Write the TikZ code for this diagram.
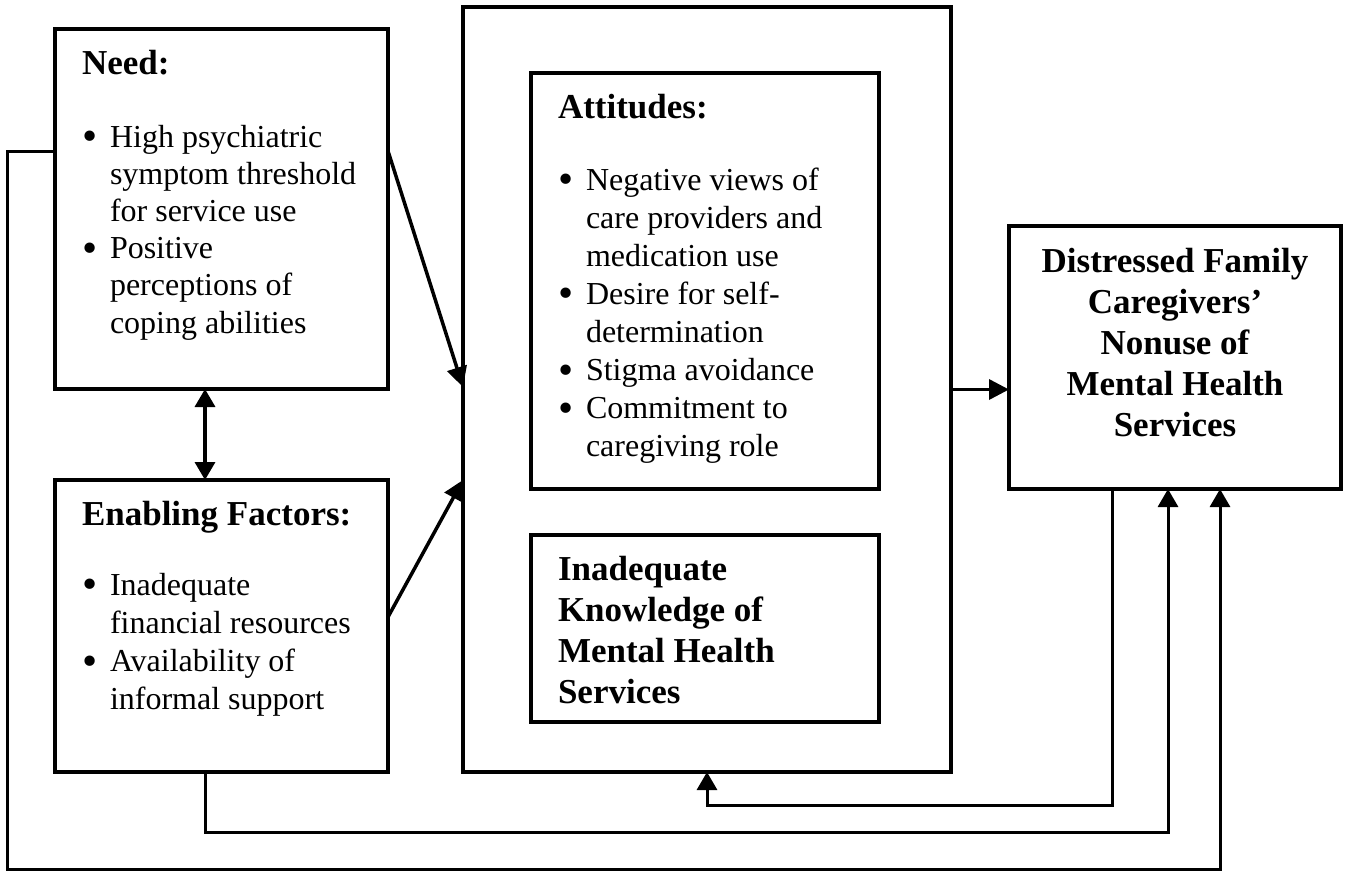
\documentclass[tikz,border=0pt]{standalone}
\usepackage{fontspec}
\usepackage{graphicx}
\setmainfont{Liberation Serif}
\usetikzlibrary{arrows.meta}
\newcommand{\bl}{\makebox[28pt][l]{\raisebox{-3.5pt}{\scalebox{1.35}{\textbullet}}}}
\newcommand{\blist}[1]{\begin{tabular}[t]{@{}l@{}l@{}}#1\end{tabular}}
\tikzset{
  box/.style={draw, rectangle, line width=4pt, inner sep=0pt, outer sep=0pt},
  conn/.style={line width=3.5pt, -{Triangle[length=20pt,width=20pt]}},
  dconn/.style={line width=3.5pt, {Triangle[length=18pt,width=20pt]}-{Triangle[length=18pt,width=20pt]}},
  fb/.style={line width=3pt, -{Triangle[length=18pt,width=20pt]}},
  head/.style={inner sep=0pt, outer sep=0pt, anchor=base west, font=\bfseries\fontsize{35}{41}\selectfont},
  lst/.style={inner sep=0pt, outer sep=0pt, anchor=base west, font=\fontsize{32}{37.2}\selectfont},
}
\begin{document}
\begin{tikzpicture}[x=1pt, y=-1pt]
\useasboundingbox (0,0) rectangle (1347,871);
\fill[white] (0,0) rectangle (1347,871);

% boxes
\node[box, minimum width=333pt, minimum height=360pt] (need) at (221.5,209) {};
\node[box, minimum width=333pt, minimum height=292pt] (enab) at (221.5,626) {};
\node[box, minimum width=488pt, minimum height=765pt] (outer) at (707,389.5) {};
\node[box, minimum width=348pt, minimum height=416pt] (att) at (705,281) {};
\node[box, minimum width=348pt, minimum height=187pt] (know) at (705,628.5) {};
\node[box, minimum width=332pt, minimum height=263pt] (dist) at (1175,357.5) {};

% texts
\node[head] (needhead) at (82,74) {Need:};
\node[lst] (needlist) at (82,147) {\blist{%
 \bl & High psychiatric\\
     & symptom threshold\\
     & for service use\\
 \bl & Positive\\
     & perceptions of\\
     & coping abilities}};

\node[head] (enabhead) at (82,525) {Enabling Factors:};
\node[lst, font=\fontsize{32}{38.3}\selectfont] (enablist) at (82,595) {\blist{%
 \bl & Inadequate\\
     & financial resources\\
 \bl & Availability of\\
     & informal support}};

\node[head] (atthead) at (558,118) {Attitudes:};
\node[lst, font=\fontsize{32}{38.1}\selectfont] (attlist) at (558,190) {\blist{%
 \bl & Negative views of\\
     & care providers and\\
     & medication use\\
 \bl & Desire for self-\\
     & determination\\
 \bl & Stigma avoidance\\
 \bl & Commitment to\\
     & caregiving role}};

\node[head] (knowtxt) at (558,580) {\begin{tabular}[t]{@{}l@{}}Inadequate\\ Knowledge of\\ Mental Health\\ Services\end{tabular}};

\node[head, anchor=base] (disttxt) at (1175,272) {\begin{tabular}[t]{@{}c@{}}Distressed Family\\ Caregivers’\\ Nonuse of\\ Mental Health\\ Services\end{tabular}};

% connectors
\draw[conn] ([yshift=58pt]need.east) -- ([yshift=2.5pt]outer.west);
\draw[conn] ([yshift=9pt]enab.east) -- ([yshift=-90.5pt]outer.west);
\draw[dconn] ([xshift=-16.5pt]need.south) -- ([xshift=-16.5pt]enab.north);
\draw[conn] (outer.east) -- (outer.east -| dist.west);

% feedback loops
\draw[fb] ([xshift=-63pt]dist.south) |- ([yshift=-33pt]outer.south) -- (outer.south);
\draw[fb] ([xshift=-16.5pt]enab.south) -- ++(0,60) -| ([xshift=-7pt]dist.south);
\draw[fb] ([yshift=58pt]need.west) -- ++(-48,0) -- ++(0,718) -| ([xshift=45pt]dist.south);
\end{tikzpicture}
\end{document}
